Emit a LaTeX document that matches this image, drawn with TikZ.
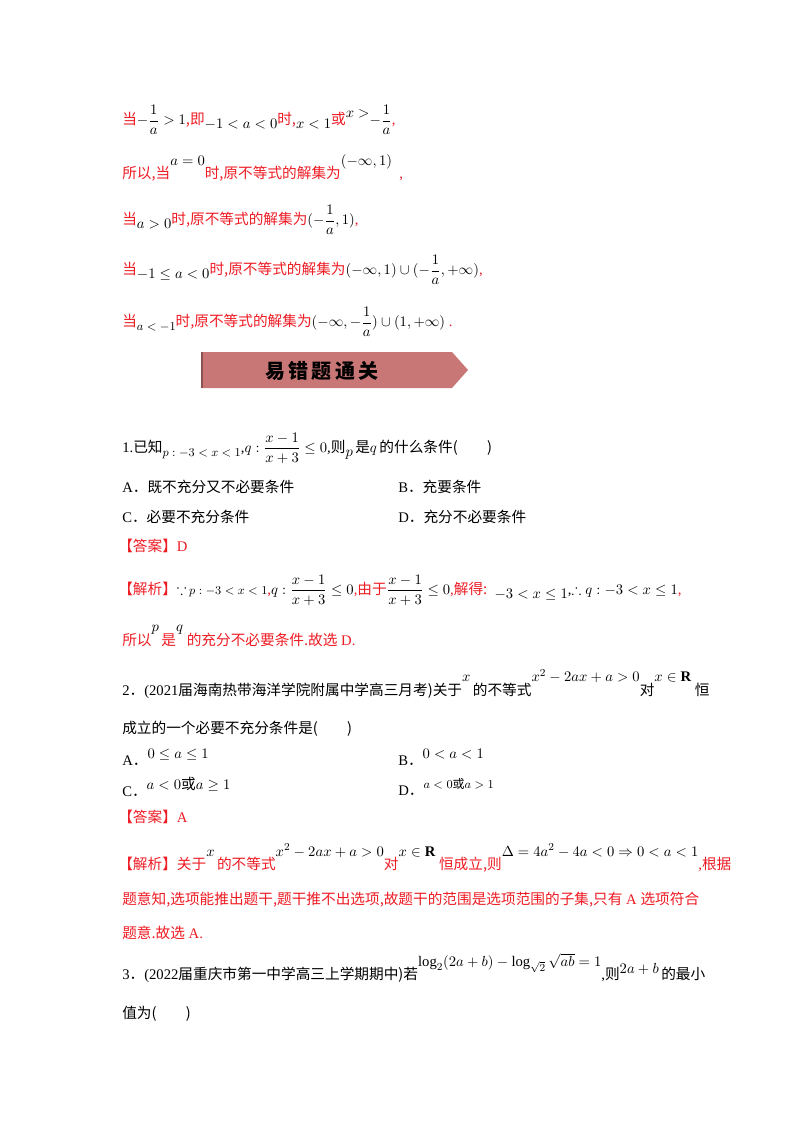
\documentclass[tikz,border=0pt]{standalone}
\usepackage{amsmath,amssymb}
\usepackage{fontspec}
\setmainfont{Liberation Serif}
\newfontfamily\cjk{Noto Sans CJK SC}
\newcommand{\zh}[1]{{\cjk #1}}
\newcommand{\up}[1]{\raisebox{5pt}{#1}}
\newcommand{\dn}[1]{\raisebox{-3pt}{#1}}
\newcommand{\bk}[1]{\textcolor{black}{#1}}
\definecolor{rd}{HTML}{EE1C24}
\definecolor{ban}{HTML}{C97676}
\tikzset{ln/.style={anchor=west,inner sep=0pt,font=\fontsize{11}{13}\selectfont},
 rl/.style={ln,text=rd}}
\begin{document}
\begin{tikzpicture}[x=0.75pt,y=-0.75pt]
\useasboundingbox (0,0) rectangle (800,1132);
\fill[white] (0,0) rectangle (800,1132);
\node[rl] (l1) at (122,120) {\zh{当}\bk{$-\dfrac{1}{a}>1$}\zh{,即}\dn{\bk{$-1<a<0$}}\zh{时,}\dn{\bk{$x<1$}}\zh{或}\up{\bk{$x>$}}\bk{$-\dfrac{1}{a}$},};
\node[rl] (l2) at (122,168) {\zh{所以,当}\up{\up{\bk{$a=0$}}}\zh{时,原不等式的解集为}\up{\up{\bk{$(-\infty,1)$}}}\ \ ,};
\node[rl] (l3) at (122,220) {\zh{当}\dn{\bk{$a>0$}}\zh{时,原不等式的解集为}\bk{$(-\dfrac{1}{a},1)$},};
\node[rl] (l4) at (122,270) {\zh{当}\dn{\bk{$-1\le a<0$}}\zh{时,原不等式的解集为}\bk{$(-\infty,1)\cup(-\dfrac{1}{a},+\infty)$},};
\node[rl] (l5) at (122,322) {\zh{当}\dn{\bk{\small$a<-1$}}\zh{时,原不等式的解集为}\bk{$(-\infty,-\dfrac{1}{a})\cup(1,+\infty)$}\ .};
\fill[ban] (202,352) -- (452,352) -- (468,370) -- (452,388) -- (202,388) -- cycle;
\draw[ban!70!black,line width=1pt] (202,352) -- (202,388);
\node[inner sep=0pt,font=\fontsize{15}{17}\selectfont\cjk\bfseries] (ban) at (322,371) {易\,错\,题\,通\,关};
\node[ln] (q1) at (122,448) {1.\zh{已知}\dn{\small$p:-3<x<1$},$q:\dfrac{x-1}{x+3}\le0$,\zh{则}\dn{$p$}\,\zh{是}$q$\,\zh{的什么条件(\qquad)}};
\node[ln] (q1a) at (122,487) {A\zh{．既不充分又不必要条件}};
\node[ln] (q1b) at (398,487) {B\zh{．充要条件}};
\node[ln] (q1c) at (122,517) {C\zh{．必要不充分条件}};
\node[ln] (q1d) at (398,517) {D\zh{．充分不必要条件}};
\node[rl] (q1ans) at (118,546) {\zh{【答案】}D};
\node[rl] (q1ana) at (118,590) {\zh{【解析】}\bk{$\because$\,\small$p:-3<x<1$},\bk{$q:\dfrac{x-1}{x+3}\le0$},\zh{由于}\bk{$\dfrac{x-1}{x+3}\le0$},\zh{解得:}\ \ \bk{\dn{$-3<x\le1$},$\therefore q:-3<x\le1$},};
\node[rl] (q1e) at (122,636) {\zh{所以}\up{\up{\bk{$p$}}}\,\zh{是}\up{\up{\bk{$q$}}}\ \zh{的充分不必要条件.故选} D.};
\node[ln] (q2) at (122,684) {2\zh{．}(2021\zh{届海南热带海洋学院附属中学高三月考)关于}\up{\up{$x$}}\,\zh{的不等式}\up{\up{$x^2-2ax+a>0$}}\zh{对}\up{\up{$x\in\mathbf{R}$}}\ \zh{恒}};
\node[ln] (q2b) at (122,729) {\zh{成立的一个必要不充分条件是(\qquad)}};
\node[ln] (q2A) at (122,757) {A\zh{．}\up{$0\le a\le1$}};
\node[ln] (q2B) at (398,757) {B\zh{．}\up{$0<a<1$}};
\node[ln] (q2C) at (122,787) {C\zh{．}\up{$a<0$\zh{或}$a\ge1$}};
\node[ln] (q2D) at (398,787) {D\zh{．}\up{\small$a<0$\zh{或}$a>1$}};
\node[rl] (q2ans) at (118,817) {\zh{【答案】}A};
\node[rl] (q2ana) at (118,858) {\zh{【解析】关于}\up{\up{\bk{$x$}}}\,\zh{的不等式}\up{\up{\bk{$x^2-2ax+a>0$}}}\zh{对}\up{\up{\bk{$x\in\mathbf{R}$}}}\ \zh{恒成立,则}\up{\up{\bk{$\Delta=4a^2-4a<0\Rightarrow0<a<1$}}},\zh{根据}};
\node[rl] (q2c) at (122,900) {\zh{题意知,选项能推出题干,题干推不出选项,故题干的范围是选项范围的子集,只有} A \zh{选项符合}};
\node[rl] (q2d) at (122,933) {\zh{题意.故选} A.};
\node[ln] (q3) at (122,968) {3\zh{．}(2022\zh{届重庆市第一中学高三上学期期中)若}\up{\up{$\log_2(2a+b)-\log_{\sqrt2}\sqrt{ab}=1$}},\zh{则}\up{$2a+b$}\,\zh{的最小}};
\node[ln] (q3b) at (122,1014) {\zh{值为(\qquad)}};
\end{tikzpicture}
\end{document}
